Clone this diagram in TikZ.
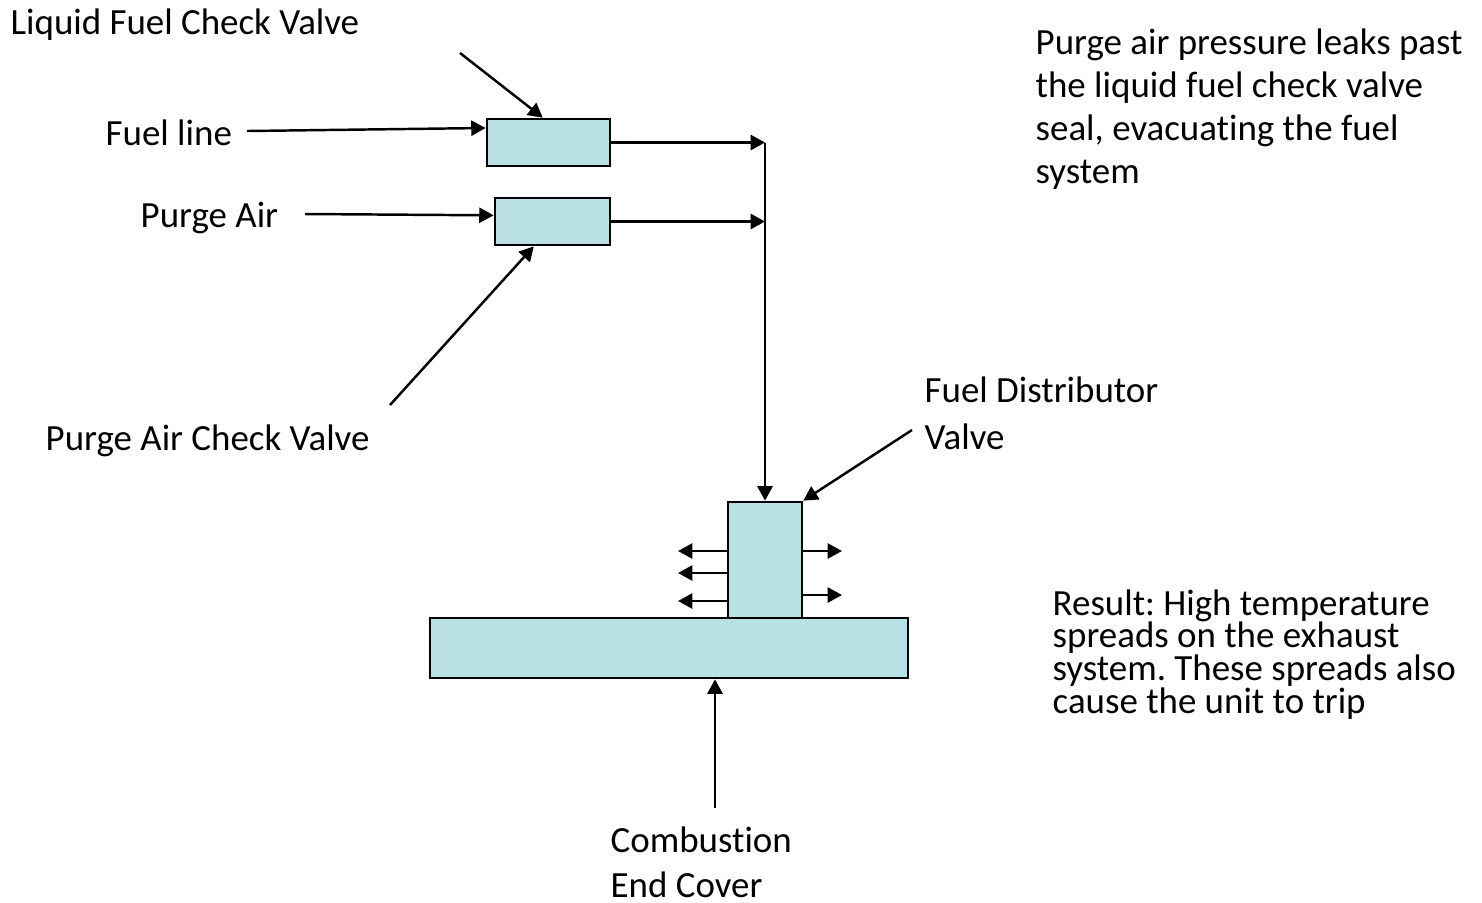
\documentclass[tikz,border=0pt]{standalone}
\usepackage{fontspec}
\setmainfont{Carlito}[Ligatures=NoCommon]
\usetikzlibrary{arrows.meta}

\definecolor{valvefill}{RGB}{185,224,228}

\tikzset{
    valve/.style={draw, line width=0.75pt, fill=valvefill, inner sep=0pt},
    lbl/.style={inner sep=0pt, anchor=base west, align=left, font=\fontsize{10.5}{12.2}\selectfont},
    flow/.style={-{Triangle[length=4.1pt,width=4.3pt]}, line width=0.7pt},
}
\frenchspacing

\begin{document}
\begin{tikzpicture}[x=0.01cm, y=-0.01cm]
\useasboundingbox (0,0) rectangle (1482,902);

%check valves
\node[valve, minimum width=1.23cm, minimum height=0.47cm] (lfcv) at (548.5,142.5) {};
\node[valve, minimum width=1.15cm, minimum height=0.47cm] (pacv) at (552.5,221.5) {};

%distributor and end cover
\node[valve, minimum width=4.78cm, minimum height=0.60cm] (cover) at (669,648) {};
\node[valve, minimum width=0.74cm, minimum height=1.16cm] (fdv) at (765,560) {};

%labels (multi-line ones sit on the baseline of their last line)
\node[lbl] (l_lfcv) at (10,34) {Liquid Fuel Check Valve};
\node[lbl] (l_fuel) at (105,145) {Fuel line};
\node[lbl] (l_purge) at (140,227) {Purge Air};
\node[lbl] (l_pacv) at (45,450) {Purge Air Check Valve};
\node[lbl, font=\fontsize{10.5}{13.1}\selectfont] (l_fdv) at (924,449) {Fuel Distributor\\Valve};
\node[lbl, font=\fontsize{10.5}{12.8}\selectfont] (l_cover) at (610,897) {Combustion\\End Cover};
\node[lbl] (l_leak) at (1035,183) {Purge air pressure leaks past\\the liquid fuel check valve\\seal, evacuating the fuel\\system};
\node[lbl, font=\fontsize{10.5}{9.25}\selectfont] (l_result) at (1052,713) {Result: High temperature\\spreads on the exhaust\\system. These spreads also\\cause the unit to trip};

%free ends of the pointers
\coordinate (fuelin) at (247,131);
\coordinate (purgein) at (305,214);
\coordinate (lfcvptr) at (460,53);
\coordinate (pacvptr) at (390,405);
\coordinate (fdvptr) at (912,430);
\coordinate (coverin) at (715,808);
\coordinate (j1) at (765,142.5);
\coordinate (j2) at (765,221.5);

%inlets and pointers
\draw[flow] (fuelin) -- (lfcv.167);
\draw[flow] (purgein) -- (pacv.174);
\draw[flow] (lfcvptr) -- (lfcv.103);
\draw[flow] (pacvptr) -- (pacv.233);
\draw[flow] (fdvptr) -- (fdv.north east);
\draw[flow] (coverin) -- (coverin |- cover.south);

%lines to the distributor
\draw[flow] (lfcv.east) -- (j1);
\draw[flow] (pacv.east) -- (j2);
\draw[flow] (j1) -- (fdv.north);

%leaks out of the distributor
\foreach \yy [count=\i] in {551,573,601}{
    \coordinate (leakl\i) at (678,\yy);
    \draw[flow] (fdv.west |- leakl\i) -- (leakl\i);
};
\foreach \yy [count=\i] in {551,595}{
    \coordinate (leakr\i) at (842,\yy);
    \draw[flow] (fdv.east |- leakr\i) -- (leakr\i);
};

\end{tikzpicture}
\end{document}
